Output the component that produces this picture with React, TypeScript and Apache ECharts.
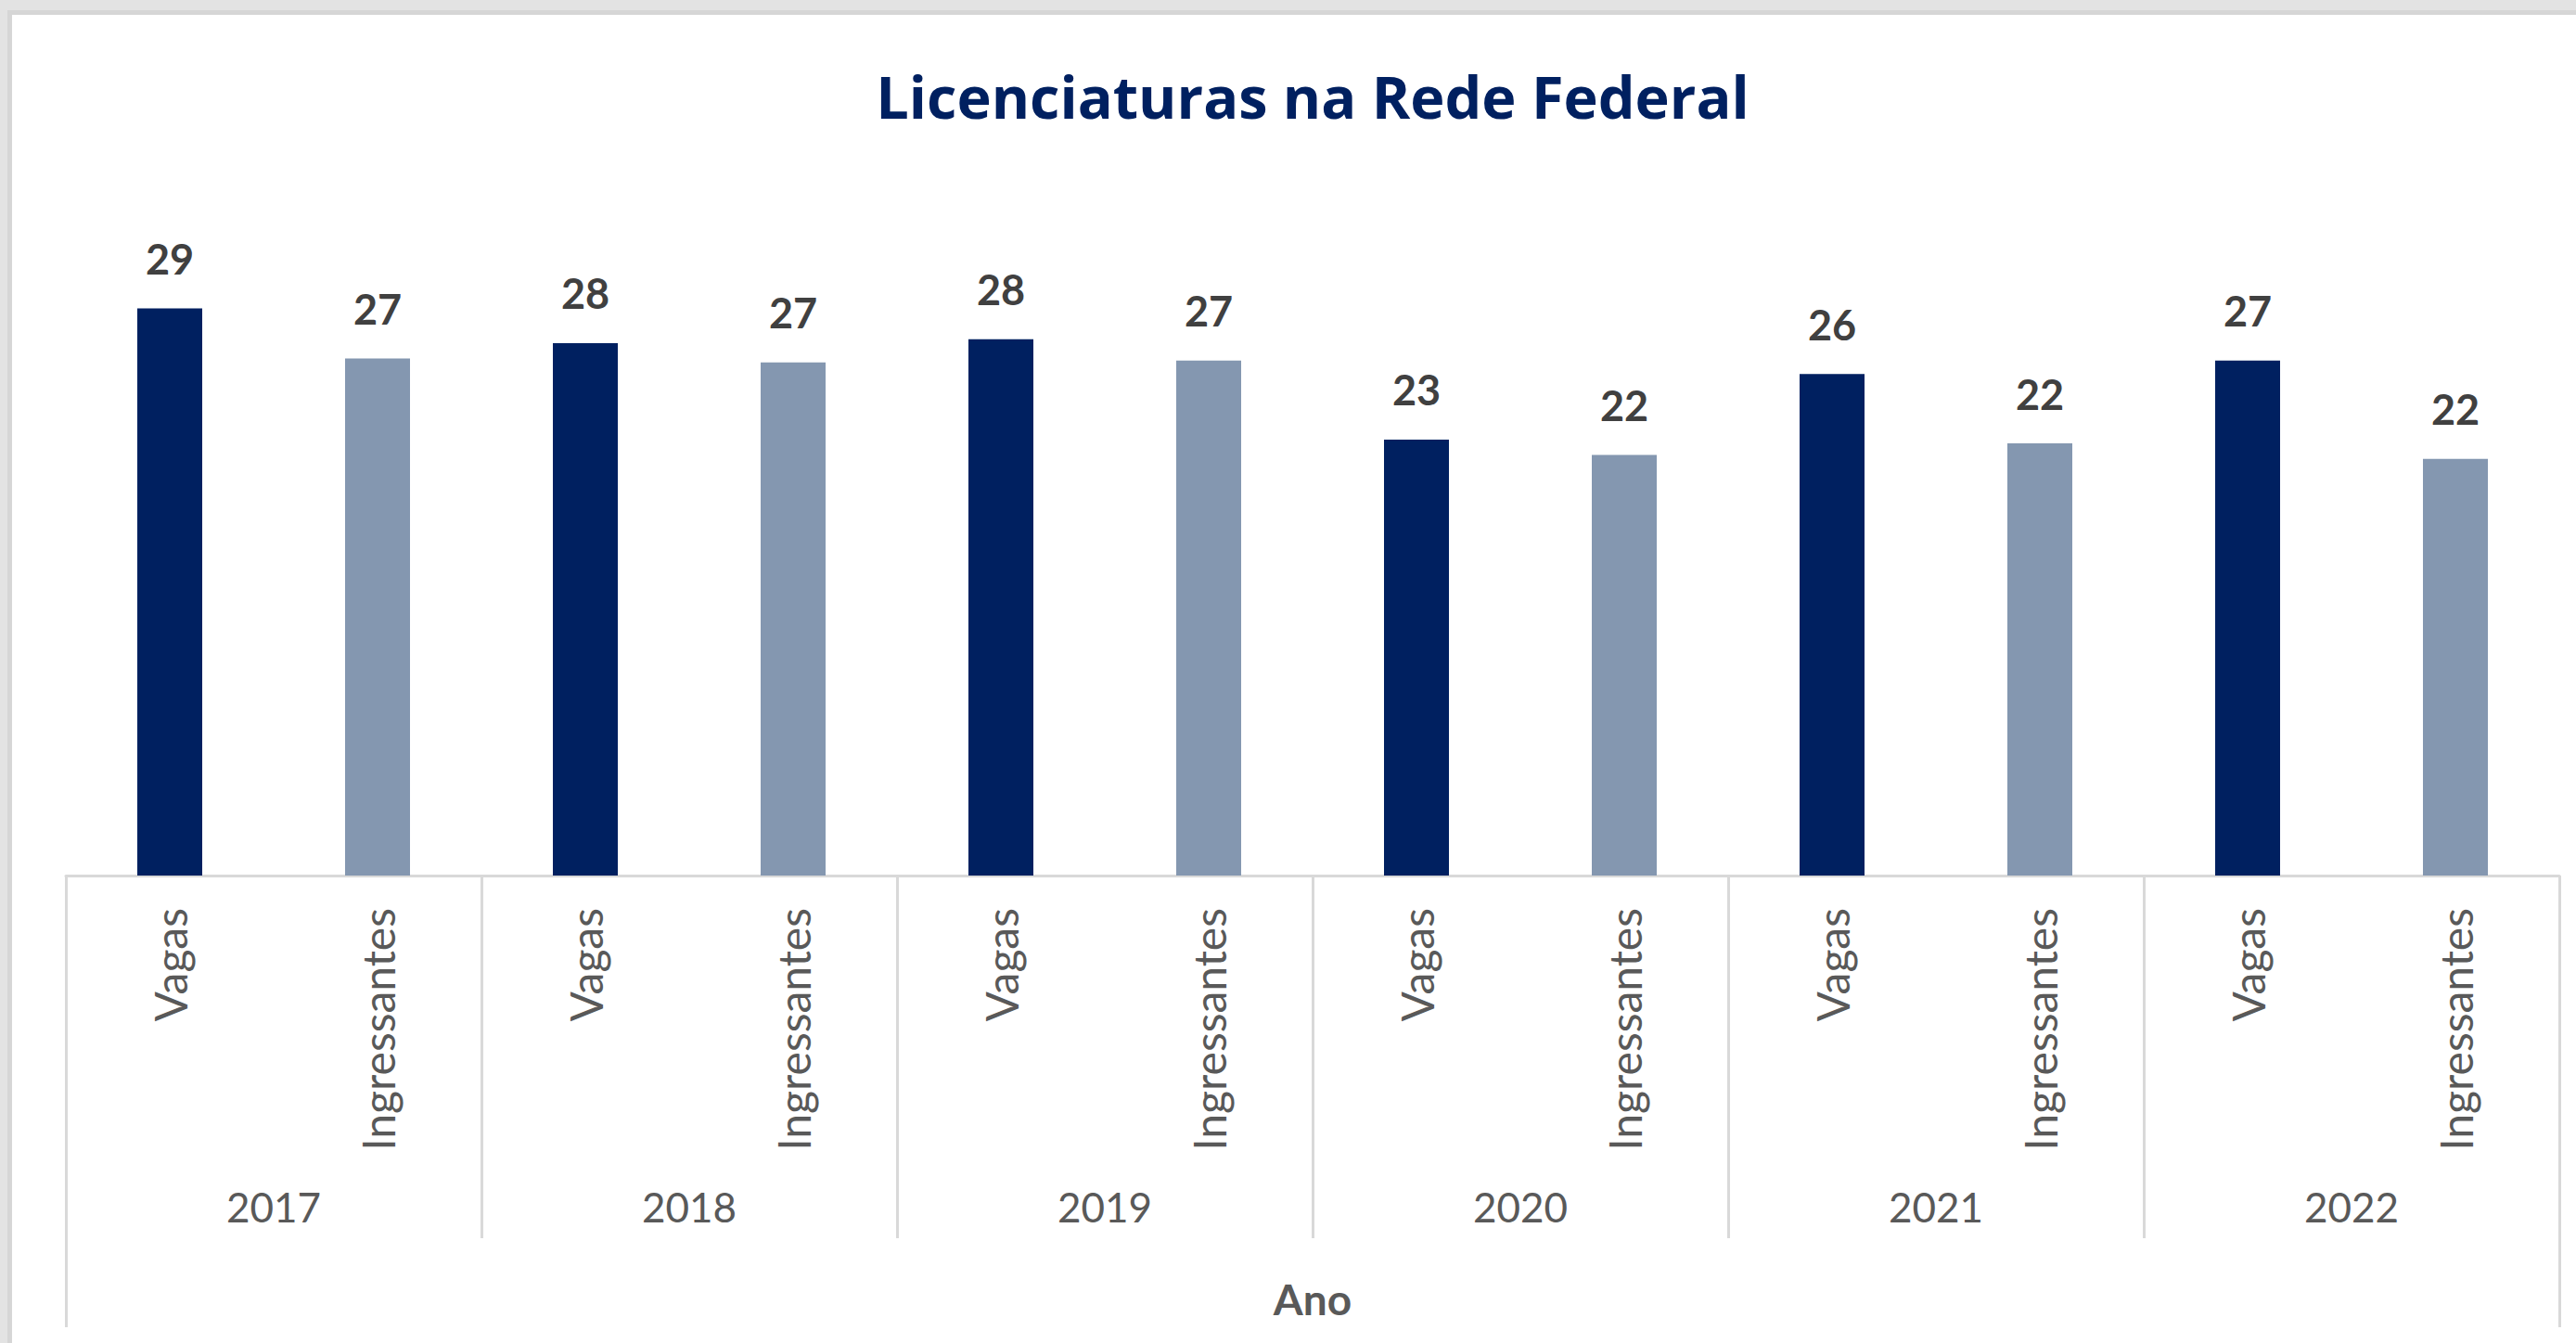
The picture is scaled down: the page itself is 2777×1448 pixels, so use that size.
import React, { useEffect, useRef } from "react";
import * as echarts from "echarts";

const chartTitle = "Licenciaturas na Rede Federal";
const years = ["2017", "2018", "2019", "2020", "2021", "2022"];
const seriesNames = ["Vagas", "Ingressantes"];
const vagas = [29.4, 27.6, 27.8, 22.6, 26.0, 26.7];
const ingressantes = [26.8, 26.6, 26.7, 21.8, 22.4, 21.6];
const axisTitle = "Ano";

const FONT = "Lato, 'Noto Sans', sans-serif";
const TITLE_FONT = "'Open Sans', 'Noto Sans', sans-serif";

export default function App() {
  const ref = useRef<HTMLDivElement>(null);

  useEffect(() => {
    if (!ref.current) return;
    const chart = echarts.init(ref.current, null, { renderer: "svg" });

    const cats: string[] = [];
    const vData: (number | null)[] = [];
    const iData: (number | null)[] = [];
    years.forEach((_, i) => {
      cats.push(seriesNames[0], seriesNames[1]);
      vData.push(vagas[i], null);
      iData.push(null, ingressantes[i]);
    });

    const labelCfg = {
      show: true,
      position: "top",
      distance: 31,
      formatter: (p: any) => (p.value == null ? "" : String(Math.round(p.value))),
      color: "#404040",
      fontWeight: "bold",
      fontSize: 45,
      fontFamily: FONT,
    };

    chart.setOption({
      animation: false,
      backgroundColor: "transparent",
      title: {
        text: chartTitle,
        left: 1410,
        textAlign: "center",
        top: 67,
        textStyle: {
          color: "#002060",
          fontSize: 63,
          fontWeight: "bold",
          fontFamily: TITLE_FONT,
        },
      },
      grid: { left: 71, right: 18, top: 216, bottom: 504, containLabel: false },
      yAxis: { type: "value", min: 0, max: 35, show: false, splitLine: { show: false } },
      xAxis: [
        {
          type: "category",
          gridIndex: 0,
          position: "bottom",
          offset: 0,
          data: cats,
          axisLine: { show: true, lineStyle: { color: "#d9d9d9", width: 3 } },
          axisTick: { show: false },
          axisLabel: {
            interval: 0,
            rotate: 90,
            margin: 35,
            color: "#595959",
            fontSize: 48,
            fontFamily: FONT,
          },
        },
        {
          type: "category",
          gridIndex: 0,
          position: "bottom",
          offset: 0,
          data: years,
          axisLine: { show: false },
          axisTick: { show: true, interval: 0, length: 391, lineStyle: { color: "#d9d9d9", width: 3 } },
          axisLabel: {
            interval: 0,
            margin: 357,
            verticalAlign: "middle",
            color: "#595959",
            fontSize: 44,
            fontFamily: FONT,
          },
        },
        {
          type: "category",
          gridIndex: 0,
          position: "bottom",
          offset: 0,
          data: [axisTitle],
          axisLine: { show: false },
          axisTick: { show: true, interval: 0, length: 487, lineStyle: { color: "#d9d9d9", width: 3 } },
          axisLabel: {
            interval: 0,
            margin: 456,
            verticalAlign: "middle",
            color: "#595959",
            fontSize: 46,
            fontWeight: "bold",
            fontFamily: FONT,
          },
        },
      ],
      series: [
        {
          type: "bar",
          name: seriesNames[0],
          xAxisIndex: 0,
          data: vData,
          barWidth: 70,
          barGap: "-100%",
          itemStyle: { color: "#002060" },
          label: labelCfg,
        },
        {
          type: "bar",
          name: seriesNames[1],
          xAxisIndex: 0,
          data: iData,
          barWidth: 70,
          barGap: "-100%",
          itemStyle: { color: "#8497B0" },
          label: labelCfg,
        },
      ],
    });

    return () => chart.dispose();
  }, []);

  return (
    <div style={{ position: "fixed", left: 0, top: 0, width: 2777, height: 1448, background: "#e3e3e3", overflow: "hidden" }}>
      <div style={{ position: "absolute", left: 8, top: 11, right: 0, bottom: 0, background: "#d6d6d6" }} />
      <div style={{ position: "absolute", left: 13, top: 16, right: 0, bottom: 0, background: "#ffffff" }} />
      <div ref={ref} style={{ position: "absolute", left: 0, top: 0, width: 2777, height: 1448 }} />
    </div>
  );
}
